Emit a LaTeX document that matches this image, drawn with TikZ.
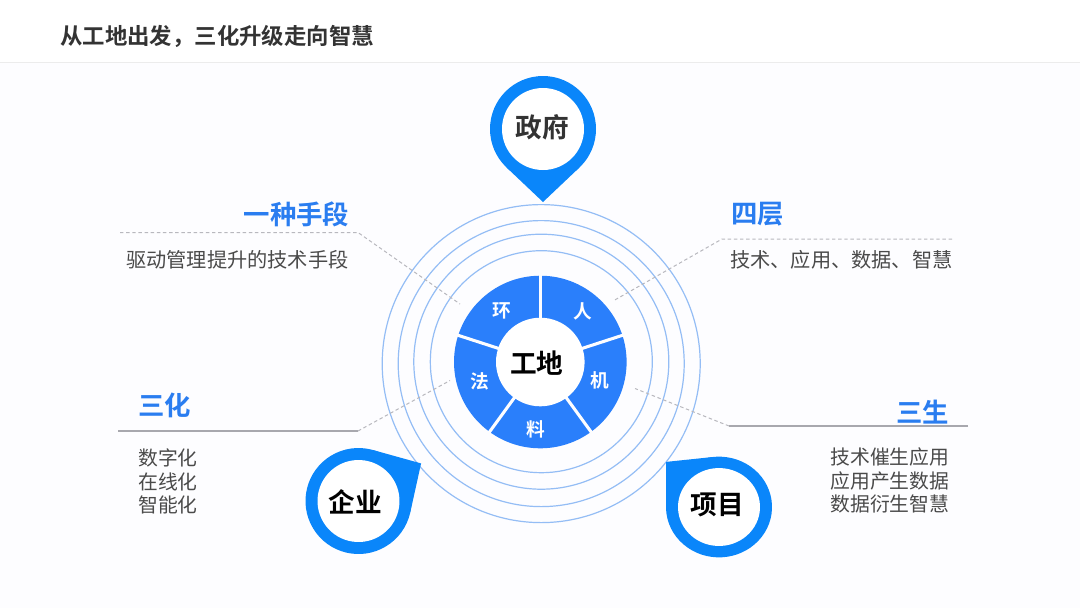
\documentclass[tikz,border=0pt]{standalone}
\usepackage{fontspec}
\setmainfont{Noto Sans CJK SC}[BoldFont={Noto Sans CJK SC Bold}]
\definecolor{bgc}{HTML}{FDFDFF}
\definecolor{pinblue}{HTML}{0A86FA}
\definecolor{wedgeblue}{HTML}{2A7FFB}
\definecolor{headblue}{HTML}{2A7DF0}
\definecolor{ringblue}{HTML}{94BDF5}
\definecolor{bodygrey}{HTML}{4A4A4A}
\definecolor{leadgrey}{HTML}{B8B8BE}
\definecolor{rulegrey}{HTML}{A8A8AE}
\tikzset{
  x=0.75pt,y=-0.75pt,
  ring/.style={draw=ringblue,line width=0.9pt},
  sep/.style={draw=bgc,line width=2.3pt},
  pinlabel/.style={font=\fontsize{20}{24}\selectfont\bfseries,inner sep=0pt},
  wedgelabel/.style={font=\fontsize{14}{16}\selectfont\bfseries,text=white,inner sep=0pt},
  head/.style={font=\fontsize{19.8}{24}\selectfont\bfseries,text=headblue,inner sep=0pt},
  body/.style={font=\fontsize{15.15}{17.7}\selectfont,text=bodygrey,inner sep=0pt},
  bodysmall/.style={font=\fontsize{14.85}{17.7}\selectfont,text=bodygrey,inner sep=0pt},
  leader/.style={draw=leadgrey,line width=0.75pt,dash pattern=on 2.6pt off 2pt},
  solidrule/.style={draw=rulegrey,line width=0.9pt},
}
% centre x, centre y, tip direction, tip distance, y scale
\newcommand{\mypin}[5]{%
  \begin{scope}[shift={(#1,#2)},yscale=#5,rotate=#3]
    \pgfmathsetmacro{\myang}{acos(53/#4)}
    \fill[pinblue] (0,0) circle[radius=53];
    \fill[pinblue] (\myang:53) -- (#4,0) -- (-\myang:53) -- (0,0) -- cycle;
    \fill[white] (0,0) circle[radius=41];
  \end{scope}}
\begin{document}
\begin{tikzpicture}
\useasboundingbox (0,0) rectangle (1080,608);
\fill[bgc] (0,0) rectangle (1080,608);
\fill[white] (0,0) rectangle (1080,62);
\draw[draw=gray!15,line width=0.6pt] (0,62.5) -- (1080,62.5);
\node[anchor=west,inner sep=0pt,text=black!80,font=\fontsize{16.8}{20}\selectfont\bfseries] (title) at (60,36) {从工地出发，三化升级走向智慧};
% rings
\coordinate (c) at (540.3,362);
\coordinate (ca) at (541.2,363.6);
\coordinate (cb) at (541.3,361.7);
\draw[ring] (ca) circle[radius=159];
\draw[ring] (ca) circle[radius=143];
\draw[ring] (cb) circle[radius=127.5];
\draw[ring] (cb) circle[radius=111];
% donut
\fill[wedgeblue] (c) circle[radius=86.3];
\foreach \a in {90,18,-54,-126,162}{\draw[sep] (c) -- ++(\a:-90);}
\fill[white] (c) circle[radius=44.3];
% leaders
\coordinate (l1a) at (120,232.5); \coordinate (l1b) at (358,232.5); \coordinate (l1c) at (460,304);
\coordinate (l2a) at (952,239); \coordinate (l2b) at (722,239); \coordinate (l2c) at (613,301);
\coordinate (l3a) at (118,431); \coordinate (l3b) at (358,431); \coordinate (l3c) at (450,380.5);
\coordinate (l4a) at (968,426); \coordinate (l4b) at (729,426); \coordinate (l4c) at (635,388.5);
\draw[leader] (l1a) -- (l1b) -- (l1c);
\draw[leader] (l2a) -- (l2b) -- (l2c);
\draw[solidrule] (l3a) -- (l3b);
\draw[leader] (l3b) -- (l3c);
\draw[solidrule] (l4a) -- (l4b);
\draw[leader] (l4b) -- (l4c);
% pins
\mypin{543}{129}{-90}{73}{1}
\mypin{358.5}{501}{31}{73}{1}
\mypin{719}{507}{138}{71}{0.95}
\node[pinlabel,text=black!80] (gov) at (542.5,127) {政府};
\node[pinlabel,text=black] (ent) at (355,502) {企业};
\node[pinlabel,text=black] (prj) at (717,505) {项目};
\node[pinlabel,text=black] (site) at (536.7,363.5) {工地};
% wedge labels
\node[wedgelabel] (w1) at (583,311) {人};
\node[wedgelabel] (w2) at (599.5,380) {机};
\node[wedgelabel] (w3) at (536,429.5) {料};
\node[wedgelabel] (w4) at (480,381) {法};
\node[wedgelabel] (w5) at (502,310.5) {环};
% headings
\node[head,anchor=east] (h1) at (349.5,214) {一种手段};
\node[head,anchor=west] (h2) at (731,214) {四层};
\node[head,anchor=west] (h3) at (138,405) {三化};
\node[head,anchor=east] (h4) at (949.5,412) {三生};
% bodies
\node[body,anchor=west] (b1) at (126,259.5) {驱动管理提升的技术手段};
\node[body,anchor=west] (b2) at (730,260) {技术、应用、数据、智慧};
\node[bodysmall,anchor=north west,align=left] (b3) at (138,448.5) {数字化\\在线化\\智能化};
\node[bodysmall,anchor=north east,align=right] (b4) at (949.5,447.5) {技术催生应用\\应用产生数据\\数据衍生智慧};
\end{tikzpicture}
\end{document}
